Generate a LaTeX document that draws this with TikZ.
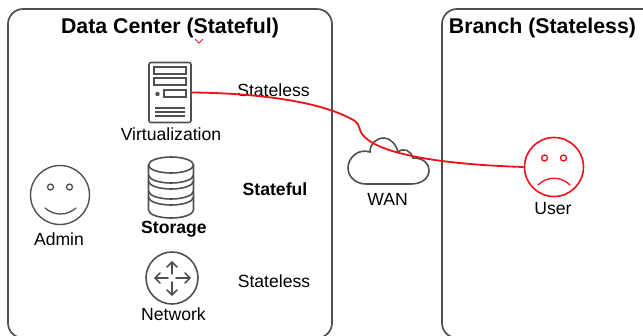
\documentclass[tikz,border=0pt]{standalone}
\usepackage{fontspec}
\setmainfont{Liberation Sans}
\usepackage{xcolor}
\definecolor{icongray}{HTML}{505050}
\definecolor{linered}{HTML}{F01018}
\tikzset{
  panel/.style={draw=icongray,line width=1.7pt,rounded corners=15pt},
  icon/.style={draw=icongray,line width=1.6pt},
  smile/.style={circle,draw=icongray,line width=1.4pt,minimum size=59pt,inner sep=0pt},
  frown/.style={circle,draw=linered,line width=1.6pt,minimum size=59pt,inner sep=0pt},
  title/.style={font=\fontsize{21.3}{24}\selectfont\bfseries,inner sep=0pt},
  label/.style={font=\fontsize{17.6}{20}\selectfont,inner sep=0pt},
  boldlabel/.style={font=\fontsize{17.6}{20}\selectfont\bfseries,inner sep=0pt},
}
\begin{document}
\begin{tikzpicture}[x=1pt,y=-1pt]
\useasboundingbox (0,0) rectangle (643,335);
\clip (0,0) rectangle (643,335);
% panels
\draw[panel] (8,338) rectangle (332,9);
\draw[panel] (442,338) rectangle (670,9);
\node[title] (dctitle) at (170,27.5) {Data Center (Stateful)};
\node[title] (brtitle) at (542.5,27.5) {Branch (Stateless)};
\draw[linered,line width=0.9pt] (195,39) -- (199,43) -- (203,39);
% server
\node[icon,rounded corners=2pt,minimum width=42pt,minimum height=60pt,inner sep=0pt] (server) at (170,92.5) {};
\draw[icon] (154,67) rectangle (186,74);
\draw[icon] (154,78) rectangle (186,85);
\draw[icon] (164,90) rectangle (186,97);
\fill[icongray] (157.5,94) circle (2.2pt);
\draw[icongray,line width=1.1pt] (155,108) -- (185,108) (155,112) -- (185,112) (155,116) -- (185,116);
\node[label] (virt) at (171,134.5) {Virtualization};
% storage
\draw[icon] (148.5,165) -- (148.5,210) arc[start angle=180,end angle=0,x radius=22.5,y radius=8] -- (193.5,165);
\draw[icon] (171,165) ellipse (22.5pt and 8pt);
\draw[icon] (148.5,175) arc[start angle=180,end angle=0,x radius=22.5,y radius=8];
\draw[icon] (148.5,181) arc[start angle=180,end angle=0,x radius=22.5,y radius=8];
\draw[icon] (148.5,191) arc[start angle=180,end angle=0,x radius=22.5,y radius=8];
\draw[icon] (148.5,197) arc[start angle=180,end angle=0,x radius=22.5,y radius=8];
\node[boldlabel] (storage) at (174,229.5) {Storage};
% router
\node[icon,circle,minimum size=52pt,inner sep=0pt] (router) at (172,278) {};
\draw[icon,line cap=round,line join=round]
  (172,274) -- (172,262) (167,267) -- (172,262) -- (177,267)
  (172,282) -- (172,295) (167,290) -- (172,295) -- (177,290)
  (168,278) -- (155,278) (160,273) -- (155,278) -- (160,283)
  (176,278) -- (190,278) (185,273) -- (190,278) -- (185,283);
\node[label] (network) at (173.5,314.5) {Network};
% admin
\node[smile] (admin) at (60,195) {};
\draw[icongray,line width=1.3pt] (50.5,187) circle (3pt) (69.5,187) circle (3pt);
\draw[icongray,line width=1.3pt,line cap=round] (45,208) .. controls (54,216) and (67,216) .. (76,208);
\node[label] (adminlabel) at (59,239.5) {Admin};
% tiers
\node[label] (tierone) at (273.5,90.5) {Stateless};
\node[boldlabel] (tiertwo) at (275,189.5) {Stateful};
\node[label] (tierthree) at (274,281.5) {Stateless};
% cloud
\draw[icon] (366,184) -- (411,184)
  .. controls (422,184) and (429,178) .. (429,170)
  .. controls (429,164) and (424,158) .. (413,158)
  .. controls (411,151) and (404,147) .. (398,152)
  .. controls (396,144) and (390,138) .. (384,138)
  .. controls (376,138) and (370,144) .. (370,152)
  .. controls (358,148) and (348,158) .. (348,168)
  .. controls (348,177) and (356,184) .. (366,184) -- cycle;
\node[label] (wan) at (387.5,199.5) {WAN};
% user
\node[frown] (user) at (554,167) {};
\draw[linered,line width=1.3pt] (544.5,158) circle (3pt) (563.5,158) circle (3pt);
\draw[linered,line width=1.3pt,line cap=round] (538,185) .. controls (547,176) and (561,176) .. (570,185);
\node[label] (userlabel) at (553,209) {User};
% link
\draw[linered,line width=1.8pt] (server.east)
  .. controls (250,93) and (320,100) .. (355,121)
  .. controls (360,125) and (359,130) .. (362,134)
  .. controls (375,152) and (430,164) .. (user.west);
\end{tikzpicture}
\end{document}
